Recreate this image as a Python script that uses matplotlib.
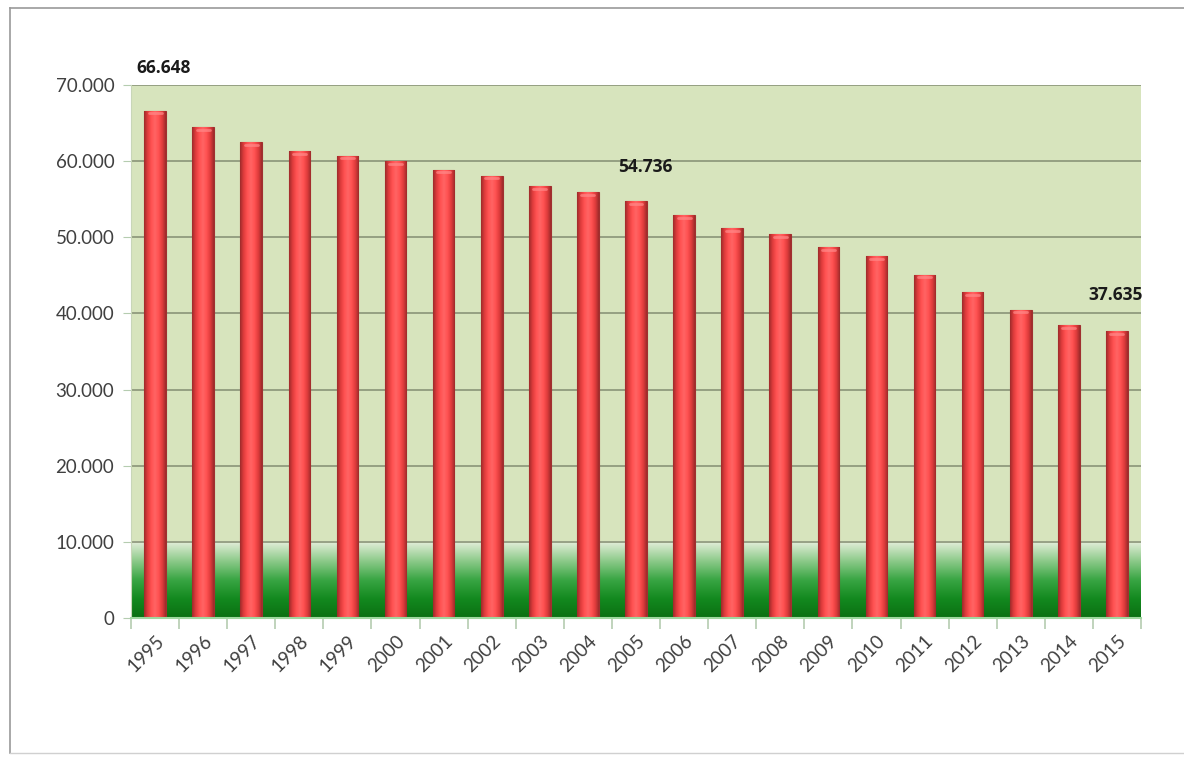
import numpy as np
import matplotlib
matplotlib.use("Agg")
import matplotlib.pyplot as plt
from matplotlib.colors import LinearSegmentedColormap
from matplotlib.lines import Line2D
from matplotlib.ticker import FuncFormatter

# data
years = [str(y) for y in range(1995, 2016)]
values = [66648, 64500, 62500, 61300, 60700, 60000, 58900, 58100, 56700, 55900,
          54736, 52900, 51200, 50400, 48700, 47500, 45100, 42800, 40500, 38500, 37635]
labelled = {"1995": (9, 43), "2005": (9, 34), "2015": (-1, 36)}  # label offsets in px
y_ticks = [0, 10000, 20000, 30000, 40000, 50000, 60000, 70000]

plt.rcParams['font.family'] = ['Lato', 'DejaVu Sans']

fig = plt.figure(figsize=(11.84, 7.6), dpi=100)
ax = fig.add_axes([131 / 1184, (760 - 618) / 760, 1010 / 1184, 533 / 760])

n = len(values)
x = np.arange(n)
ax.set_xlim(-0.5, n - 0.5)
ax.set_ylim(0, 70000)
ax.set_facecolor('#d7e4bd')

# green gradient band at the bottom of the plot area
band = LinearSegmentedColormap.from_list(
    'band', ['#0b6f12', '#13891f', '#3aa644', '#8fcb8c', '#e6efdc'])
grad = np.linspace(0, 1, 256).reshape(-1, 1)
ax.imshow(grad, cmap=band, aspect='auto', origin='lower',
          extent=(-0.5, n - 0.5, 0, 10000), zorder=0.5)

# grid
for t in y_ticks[1:]:
    ax.axhline(t, color='#8a9478', lw=1.2, zorder=1)

# cylinder-like bars
cyl = LinearSegmentedColormap.from_list(
    'cyl', ['#9c2a2a', '#e03c3c', '#ff5252', '#ff6464', '#ff5252', '#e03c3c', '#9c2a2a'])
hgrad = np.linspace(0, 1, 256).reshape(1, -1)
width = 0.45
bars = ax.bar(x, values, width=width, color='#ff4d4d', edgecolor='#a03030',
              lw=0.8, zorder=2)
for b in bars:
    im = ax.imshow(hgrad, cmap=cyl, aspect='auto',
                   extent=(b.get_x(), b.get_x() + b.get_width(), 0, b.get_height()),
                   zorder=2.1)
    im.set_clip_path(b)
    # soft cap at the top
    ax.plot([b.get_x() + b.get_width() * 0.2, b.get_x() + b.get_width() * 0.8],
            [b.get_height() - 350] * 2, color='#ff8a8a', lw=2, alpha=0.7,
            solid_capstyle='round', zorder=2.2)

# value labels
for i, yr in enumerate(years):
    if yr in labelled:
        dx, dy = labelled[yr]
        ax.annotate(f"{values[i] / 1000:.3f}", (x[i], values[i]),
                    xytext=(dx, dy), textcoords='offset pixels',
                    ha='center', va='center', fontsize=12.5, fontweight='bold',
                    family=['Open Sans', 'DejaVu Sans'],
                    color='#1a1a1a', zorder=5)

ax.set_yticks(y_ticks)
ax.yaxis.set_major_formatter(FuncFormatter(
    lambda v, p: '0' if v == 0 else f"{v / 1000:.3f}"))
ax.set_xticks(x)
ax.set_xticklabels(years, rotation=45, ha='right', rotation_mode='anchor')
ax.set_xticks(np.arange(-0.5, n, 1), minor=True)
ax.tick_params(axis='x', which='major', length=0, pad=10, labelsize=13.5,
               labelcolor='#404040')
ax.tick_params(axis='x', which='minor', length=8, color='#b5ccb0', width=1.2)
ax.tick_params(axis='y', length=6, color='#b5ccb0', labelsize=13.5,
               labelcolor='#404040', pad=6)

for s in ['top', 'right']:
    ax.spines[s].set_visible(False)
ax.spines['left'].set_color('#c8d6b8')
ax.spines['bottom'].set_color('#9fd89f')
ax.spines['bottom'].set_linewidth(1.5)

# outer frame (top, left, bottom)
fig.add_artist(Line2D([10 / 1184, 1.0], [1 - 8 / 760] * 2, color='#9a9a9a', lw=1.2))
fig.add_artist(Line2D([10 / 1184] * 2, [1 - 8 / 760, 1 - 753 / 760], color='#9a9a9a', lw=1.2))
fig.add_artist(Line2D([10 / 1184, 1.0], [1 - 753 / 760] * 2, color='#d0d0d0', lw=1.0))

fig.savefig('out.png', dpi=100)
